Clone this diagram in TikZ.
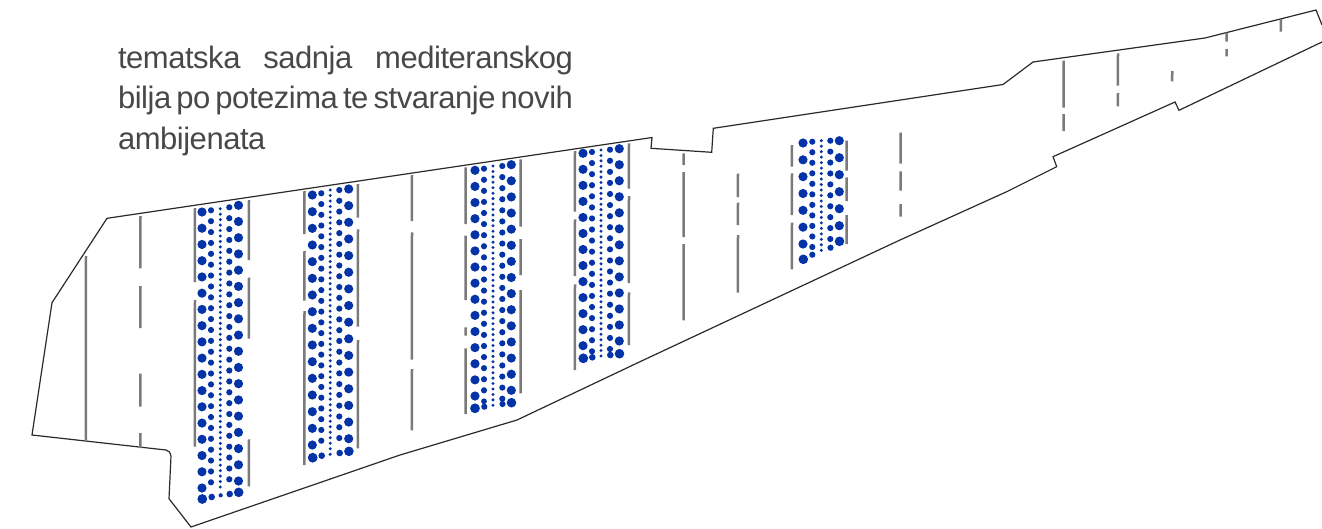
\documentclass[tikz,border=0pt]{standalone}
\usepackage{fontspec}
\setmainfont[LetterSpace=-1.5]{Liberation Sans}
\definecolor{dotblue}{HTML}{0433A8}
\definecolor{seggray}{HTML}{7A7A7A}
\definecolor{outl}{HTML}{2A2A2A}
\definecolor{txt}{HTML}{484848}
\tikzset{
  outlinepath/.style={draw=outl,line width=1.2pt,line join=miter},
  segline/.style={draw=seggray,line width=2.5pt},
  caption/.style={anchor=base west,inner sep=0pt,outer sep=0pt,text=txt,font=\fontsize{31}{36}\selectfont}
}
\newcommand{\dotcol}[5]{%
  \foreach \ii in {0,...,#4}{%
    \pgfmathsetmacro{\yy}{#2+(#3-#2)*\ii/#4}
    \fill[dotblue] (#1,\yy) circle[radius=#5];
  }}
\newcommand{\dotfin}[3]{\fill[dotblue] (#1,#2) circle[radius=#3];}
\newcommand{\segv}[3]{\draw[segline] (#1,#2) -- ([xshift=-0.2pt]#1,#3);}
\newcommand{\wsp}{\hspace{0pt plus 1fill minus 1fill}}
\def\rl{4.6}\def\rm{3.1}\def\rs{1.65}
\begin{document}
\begin{tikzpicture}[x=1pt,y=-1pt]
\useasboundingbox (0,0) rectangle (1322,528);
% outline
\draw[outlinepath] (1322,25) -- (1316,10) -- (1205,38) -- (1033,62) -- (1003,84.5) -- (713.3,128.3) -- (711.7,152.3) -- (651,148.3) -- (652,137.5) -- (107,218.3) -- (52,302.7) -- (32,435) -- (166,450) .. controls (169,450.5) and (171,453) .. (171,456) -- (169,498.7) -- (191,527) -- (400,455) -- (517,420) -- (640,361.7) -- (826.7,274.3) -- (900,240) -- (1006.7,191.7) -- (1056.7,166.7) -- (1053,156.7) -- (1175,102) -- (1179,110.3) -- (1322,42);
% grey segments
\segv{86}{256}{441}
\segv{140.5}{216}{268.3}\segv{140.5}{286}{328}\segv{140.5}{373.7}{406.7}\segv{140.5}{433}{448}
\segv{195}{208}{282}\segv{195}{300}{446.7}
\segv{249}{200}{260}\segv{249}{277.7}{338.7}\segv{249}{439.3}{486.3}
\segv{304.5}{191}{234}\segv{304.5}{251}{300.7}\segv{304.5}{311}{465}
\segv{358}{184}{217.7}\segv{358}{229.3}{326.7}\segv{358}{340}{448.3}
\segv{412}{175}{221}\segv{412}{232.3}{359.7}\segv{412}{369}{430.3}
\segv{465.7}{167.3}{224}\segv{465.7}{235.7}{300}\segv{465.7}{327.3}{335.7}\segv{465.7}{348.3}{414}
\segv{520.7}{159.3}{226.7}\segv{520.7}{239}{275}\segv{520.7}{290}{393.3}
\segv{575}{151}{211.7}\segv{575}{219.3}{276}\segv{575}{284.3}{370}
\segv{629}{143.3}{188.7}\segv{629}{196}{283}\segv{629}{292.3}{345}
\segv{683.7}{153.3}{165}\segv{683.7}{172}{237}\segv{683.7}{244}{320.3}
\segv{738}{173.7}{197}\segv{738}{202.7}{225}\segv{738}{235}{292.7}
\segv{792}{145}{166.7}\segv{792}{173.3}{215}\segv{792}{222.7}{269.3}
\segv{846.7}{140.7}{170.7}\segv{846.7}{177.3}{201}\segv{846.7}{215}{244}
\segv{900.7}{132.7}{163.7}\segv{900.7}{171.3}{190.7}\segv{900.7}{204}{216.7}
\segv{1063.7}{60.7}{107.7}\segv{1063.7}{114}{131}
\segv{1118}{53.3}{85.7}\segv{1118}{93}{106.3}
\segv{1172.3}{71}{81.3}
\segv{1226.7}{32.7}{41.7}\segv{1226.7}{49}{56.3}
\segv{1281}{19}{31.7}
% strip 1
\dotcol{202}{212}{488}{17}{\rl}\dotfin{202.3}{499}{4.9}
\dotcol{211}{210.3}{482.3}{25}{\rm}\dotfin{211.7}{497}{3.3}
\dotcol{220.3}{208.7}{487}{51}{\rs}\dotfin{220.7}{495.3}{2.1}
\dotcol{229.3}{207.3}{479.3}{25}{\rm}\dotfin{229.7}{494}{3.3}
\dotcol{238.5}{205.3}{481}{17}{\rl}\dotfin{238.7}{492.3}{4.8}
% strip 2
\dotcol{312.3}{195}{445}{15}{\rl}\dotfin{312.7}{457.7}{4.9}
\dotcol{321.3}{193.3}{440.7}{23}{\rm}\dotfin{321.7}{455.7}{3.3}
\dotcol{330.2}{190}{454.3}{48}{\rs}
\dotcol{339.3}{190}{438}{23}{\rm}\dotfin{339.7}{453}{3.3}
\dotcol{348.7}{189}{438.7}{15}{\rl}\dotfin{348.9}{451.3}{4.8}
% strip 3
\dotcol{475}{170.3}{396}{14}{\rl}\dotfin{475}{408.3}{4.9}
\dotcol{484}{168.7}{390.3}{20}{\rm}\dotfin{484}{401.3}{2.9}\dotfin{484.3}{406.7}{3.1}
\dotcol{493}{166}{405.3}{44}{\rs}
\dotcol{502.3}{166}{398.7}{21}{\rm}\dotfin{502.5}{404}{3.1}
\dotcol{511.3}{164.7}{390.3}{14}{\rl}\dotfin{511.5}{402.7}{4.8}
% strip 4
\dotcol{583}{153.3}{345.7}{12}{\rl}\dotfin{583.3}{358.3}{4.9}
\dotcol{592}{152}{351.3}{18}{\rm}\dotfin{592.3}{357.3}{3.3}
\dotcol{601}{150}{356}{38}{\rs}
\dotcol{610}{149.7}{349}{18}{\rm}\dotfin{610.3}{355}{3.3}
\dotcol{619.3}{148.7}{341}{12}{\rl}\dotfin{619.5}{353.7}{4.8}
% strip 5
\dotcol{803}{143}{244}{6}{\rl}\dotfin{803.3}{259.3}{4.8}
\dotcol{812.3}{141.7}{247}{10}{\rm}\dotfin{812.3}{254.7}{3.1}
\dotcol{821.3}{140.7}{250.3}{20}{\rs}
\dotcol{830.3}{140.7}{239}{9}{\rm}\dotfin{830.5}{247.7}{3.1}
\dotcol{839.3}{140.7}{225.7}{5}{\rl}\dotfin{839.5}{241.3}{4.8}
% caption
\coordinate (lineone) at (118,68.3);
\coordinate (linetwo) at (118,108.5);
\coordinate (linethree) at (118,149);
\node[caption] (capa) at (lineone) {\hbox to 455pt{tematska\wsp sadnja\wsp mediteranskog}};
\node[caption] (capb) at (linetwo) {\hbox to 455pt{bilja\wsp po\wsp potezima\wsp te\wsp stvaranje\wsp novih}};
\node[caption] (capc) at (linethree) {ambijenata};
\end{tikzpicture}
\end{document}
